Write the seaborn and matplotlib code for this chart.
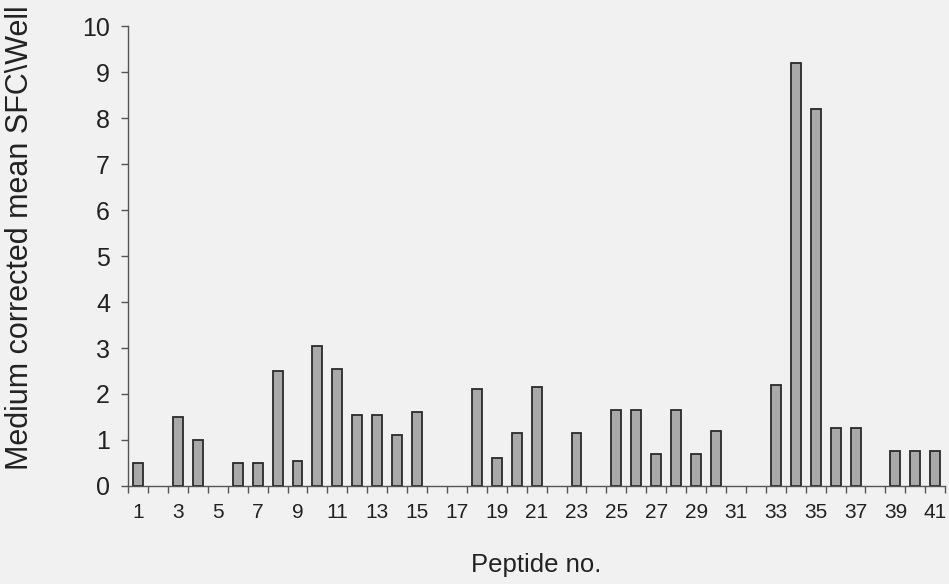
import matplotlib
matplotlib.use("Agg")
import matplotlib.pyplot as plt
import seaborn as sns
import pandas as pd
import numpy as np
from matplotlib.ticker import FixedLocator

peptides = list(range(1, 42))
values = [0.5, 0, 1.5, 1.0, 0, 0.5, 0.5, 2.5, 0.55, 3.05,
          2.55, 1.55, 1.55, 1.1, 1.6, 0, 0, 2.1, 0.6, 1.15,
          2.15, 0, 1.15, 0, 1.65, 1.65, 0.7, 1.65, 0.7, 1.2,
          0, 0, 2.2, 9.2, 8.2, 1.25, 1.25, 0, 0.75, 0.75, 0.75]
y_ticks = list(range(0, 11))
x_label = "Peptide no."
y_label = "Medium corrected mean SFC\\Well"

sns.set_theme(style="white")
plt.rcParams['font.family'] = ['Liberation Sans', 'DejaVu Sans']

order = [str(p) for p in peptides]
df = pd.DataFrame({"pep": order, "val": values})
df_plot = df[df["val"] > 0]

fig = plt.figure(figsize=(9.49, 5.84), dpi=100)
fig.patch.set_facecolor("#f1f1f1")
ax = fig.add_axes([0.135, 0.168, 0.861, 0.787])
ax.set_facecolor("#f1f1f1")

sns.barplot(data=df_plot, x="pep", y="val", order=order,
            color="#a9a9a9", edgecolor="#2a2a2a", linewidth=1.3, width=0.5,
            saturation=1, ax=ax)

ax.set_ylim(0, 10)
ax.set_xlim(-0.5, len(peptides) - 0.5)
ax.set_yticks(y_ticks)
ax.set_yticklabels([str(t) for t in y_ticks], fontsize=18, color="#222222")

major_pos = [i for i, p in enumerate(peptides) if p % 2 == 1]
ax.set_xticks(major_pos)
ax.set_xticklabels([str(peptides[i]) for i in major_pos], fontsize=15, color="#222222")
ax.xaxis.set_minor_locator(FixedLocator([i - 0.5 for i in range(len(peptides) + 1)]))
ax.tick_params(axis="x", which="major", length=0, pad=12)
ax.tick_params(axis="x", which="minor", length=5, width=1, color="#555555", direction="out", bottom=True)
ax.tick_params(axis="y", which="major", length=5, width=1, color="#555555", direction="out", left=True, pad=8)

for s in ["top", "right"]:
    ax.spines[s].set_visible(False)
for s in ["left", "bottom"]:
    ax.spines[s].set_color("#555555")
    ax.spines[s].set_linewidth(1)

ax.set_xlabel(x_label, fontsize=18.5, color="#222222", labelpad=23)
ax.set_ylabel(y_label, fontsize=22, color="#222222")
ax.yaxis.set_label_coords(-0.114, 0.54)

fig.savefig("out.png", dpi=100, facecolor=fig.get_facecolor())
